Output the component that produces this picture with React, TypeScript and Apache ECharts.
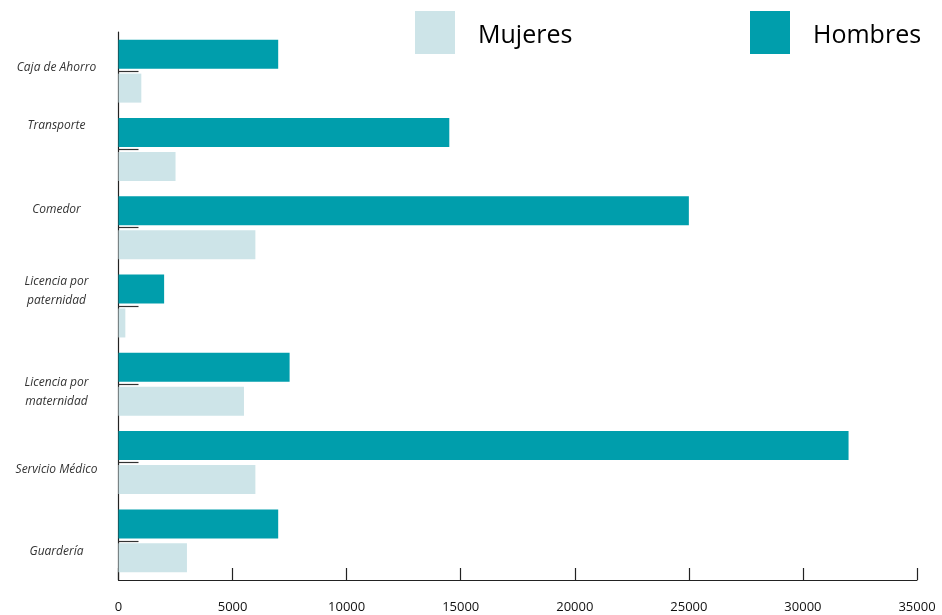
import React, { useEffect, useRef } from "react";
import * as echarts from "echarts";

// categories bottom -> top
const categories = [
  "Guardería",
  "Servicio Médico",
  "Licencia por\nmaternidad",
  "Licencia por\npaternidad",
  "Comedor",
  "Transporte",
  "Caja de Ahorro",
];
const mujeres = [3000, 6000, 5500, 300, 6000, 2500, 1000];
const hombres = [7000, 32000, 7500, 2000, 25000, 14500, 7000];
const xTicks = { min: 0, max: 35000, interval: 5000 };

// vertical nudge of each category label (px, positive = down), bottom -> top
const labelShift = [10, 6, 7, -16, -19, -25, -5];

export default function App() {
  const ref = useRef<HTMLDivElement>(null);
  useEffect(() => {
    const chart = echarts.init(ref.current!, null, { renderer: "svg" });
    const rich: Record<string, any> = {
      t: {
        fontFamily: "Open Sans",
        fontStyle: "italic",
        fontSize: 12,
        lineHeight: 19,
        color: "#333",
      },
    };
    labelShift.forEach((s, i) => {
      const h = Math.max(1, Math.abs(s) * 2);
      rich["s" + i] = { height: h, lineHeight: h, fontSize: 1, color: "rgba(0,0,0,0)" };
    });
    const legendText = { fontFamily: "Open Sans", fontSize: 25, color: "#000", padding: [0, 0, 0, 18] };
    chart.setOption({
      animation: false,
      legend: [
        {
          data: ["Mujeres"],
          top: 11,
          left: 415,
          padding: 0,
          itemWidth: 40,
          itemHeight: 43,
          icon: "rect",
          textStyle: legendText,
          selectedMode: false,
        },
        {
          data: ["Hombres"],
          top: 11,
          left: 750,
          padding: 0,
          itemWidth: 40,
          itemHeight: 43,
          icon: "rect",
          textStyle: legendText,
          selectedMode: false,
        },
      ],
      grid: { left: 118.5, right: 25, top: 32, bottom: 35, containLabel: false },
      xAxis: {
        type: "value",
        min: xTicks.min,
        max: xTicks.max,
        interval: xTicks.interval,
        axisLine: { show: true, lineStyle: { color: "#222", width: 1.2 } },
        axisTick: { show: true, inside: true, length: 12, lineStyle: { color: "#222", width: 1.2 } },
        axisLabel: {
          margin: 19,
          fontFamily: "Open Sans",
          fontSize: 13,
          lineHeight: 14,
          color: "#111",
          formatter: (v: number) => String(v),
        },
        splitLine: { show: false },
      },
      yAxis: {
        type: "category",
        data: categories,
        axisLine: { show: true, lineStyle: { color: "#222", width: 1.2 } },
        axisTick: {
          show: true,
          inside: true,
          alignWithLabel: true,
          length: 20,
          lineStyle: { color: "#333", width: 1.2 },
        },
        axisLabel: {
          margin: 62,
          align: "center",
          formatter: (value: string, index: number) => {
            const body = value
              .split("\n")
              .map((l) => "{t|" + l + "}")
              .join("\n");
            const s = labelShift[index] || 0;
            if (s < 0) return body + "\n{s" + index + "| }";
            if (s > 0) return "{s" + index + "| }\n" + body;
            return body;
          },
          rich,
        },
      },
      series: [
        {
          name: "Hombres",
          type: "bar",
          data: hombres,
          itemStyle: { color: "#009EAC" },
          barWidth: 29,
          barGap: "17%",
        },
        {
          name: "Mujeres",
          type: "bar",
          data: mujeres,
          itemStyle: { color: "#CDE4E8" },
          barWidth: 29,
          barGap: "17%",
        },
      ],
    });
    return () => chart.dispose();
  }, []);
  return (
    <div
      ref={ref}
      style={{ position: "fixed", left: 0, top: 0, width: 942, height: 615 }}
    />
  );
}
